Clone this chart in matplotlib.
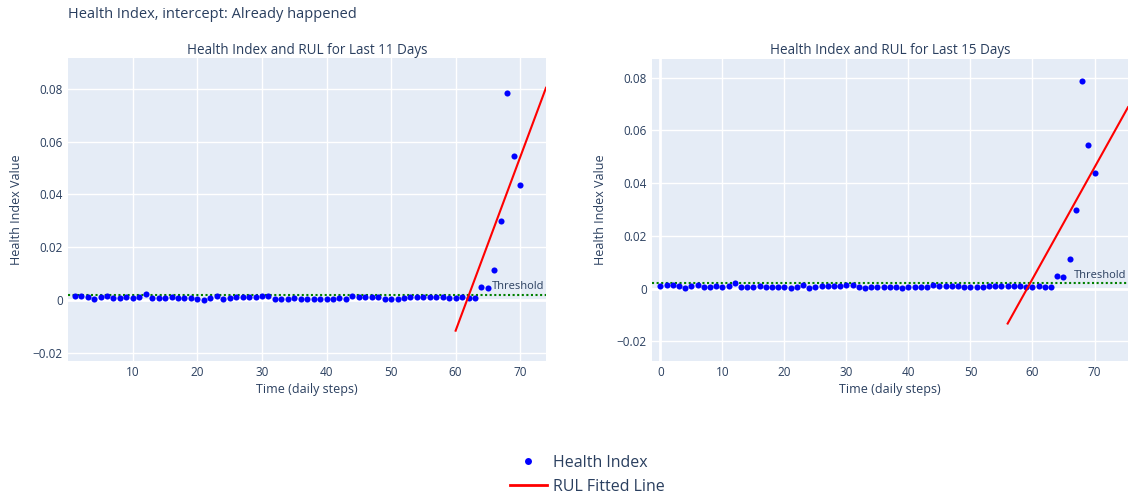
import numpy as np
import matplotlib
matplotlib.use("Agg")
import matplotlib.pyplot as plt
from matplotlib.lines import Line2D
import matplotlib.transforms as mtransforms

plt.rcParams['font.family'] = ['Open Sans', 'DejaVu Sans']

# ---------------- data ----------------
days = np.arange(0, 71)
health_index = [
    0.0010, 0.0013, 0.0013, 0.0010, 0.0003, 0.0009, 0.0013, 0.0007, 0.0006, 0.0009,
    0.0006, 0.0010, 0.0021, 0.0007, 0.0006, 0.0007, 0.0009, 0.0006, 0.0006, 0.0006,
    0.0004, 0.0001, 0.0006, 0.0013, 0.0003, 0.0007, 0.0009, 0.0009, 0.0009, 0.0010,
    0.0013, 0.0013, 0.0004, 0.0003, 0.0004, 0.0006, 0.0004, 0.0004, 0.0004, 0.0003,
    0.0004, 0.0004, 0.0006, 0.0004, 0.0013, 0.0009, 0.0010, 0.0009, 0.0009, 0.0004,
    0.0004, 0.0004, 0.0007, 0.0010, 0.0011, 0.0010, 0.0010, 0.0011, 0.0009, 0.0006,
    0.0007, 0.0009, 0.0007, 0.0007, 0.0049, 0.0045, 0.0113, 0.0299, 0.0786, 0.0546,
    0.0437,
]
threshold = 0.002

# fitted RUL lines (endpoints)
rul_x_11 = [60, 74]
rul_y_11 = [-0.0117, 0.0805]
rul_x_15 = [56, 75.4]
rul_y_15 = [-0.0133, 0.0688]

x_ticks_left = [10, 20, 30, 40, 50, 60, 70]
x_ticks_right = [0, 10, 20, 30, 40, 50, 60, 70]
y_ticks = [-0.02, 0, 0.02, 0.04, 0.06, 0.08]
y_tick_labels = ['\u22120.02', '0', '0.02', '0.04', '0.06', '0.08']

main_title = "Health Index, intercept: Already happened"
titles = ["Health Index and RUL for Last 11 Days", "Health Index and RUL for Last 15 Days"]
x_label = "Time (daily steps)"
y_label = "Health Index Value"

# ---------------- style ----------------
W, H = 1128, 499
TXT = '#2a3f5f'
BG = '#E5ECF6'

fig = plt.figure(figsize=(W / 100, H / 100), dpi=100)


def px_axes(x0, y0, x1, y1):
    return fig.add_axes([x0 / W, 1 - y1 / H, (x1 - x0) / W, (y1 - y0) / H])


axL = px_axes(68.3, 58.3, 546, 360.7)
axR = px_axes(652.3, 59, 1128, 360.7)


def style(ax, xlim, ylim, xticks):
    ax.set_facecolor(BG)
    for s in ax.spines.values():
        s.set_visible(False)
    ax.set_xlim(*xlim)
    ax.set_ylim(*ylim)
    ax.set_xticks(xticks)
    ax.set_yticks(y_ticks)
    ax.set_yticklabels(y_tick_labels)
    ax.tick_params(length=0, labelsize=8.5, labelcolor=TXT, pad=4)
    ax.grid(True, color='white', linewidth=1)
    ax.set_axisbelow(True)


style(axL, (0, 74), (-0.0231, 0.0917), x_ticks_left)
style(axR, (-1.29, 75.4), (-0.0274, 0.0871), x_ticks_right)

axL.axhline(0, color='white', linewidth=2, zorder=0.5)
axR.axhline(0, color='white', linewidth=2, zorder=0.5)
axR.axvline(0, color='white', linewidth=2, zorder=0.5)

panels = [
    (axL, days[1:], health_index[1:], rul_x_11, rul_y_11),
    (axR, days, health_index, rul_x_15, rul_y_15),
]
for ax, xs, ys, rx, ry in panels:
    ax.axhline(threshold, color='green', linewidth=1.5, linestyle=(0, (1, 1.2)), zorder=2)
    ax.plot(xs, ys, linestyle='none', marker='o', markersize=4.4,
            markerfacecolor='blue', markeredgewidth=0, zorder=3)
    ax.plot(rx, ry, color='red', linewidth=1.5, zorder=4)
    tr = mtransforms.blended_transform_factory(ax.transAxes, ax.transData)
    ax.text(0.997, threshold + 0.0008, "Threshold", transform=tr, ha='right', va='bottom',
            fontsize=8, color=TXT, zorder=5)

# texts
fig.text(68 / W, 1 - 14 / H, main_title, ha='left', va='center', fontsize=10.5, color=TXT)
fig.text(307 / W, 1 - 50 / H, titles[0], ha='center', va='center', fontsize=9.75, color=TXT)
fig.text(890 / W, 1 - 50 / H, titles[1], ha='center', va='center', fontsize=9.75, color=TXT)
fig.text(307 / W, 1 - 389 / H, x_label, ha='center', va='center', fontsize=9, color=TXT)
fig.text(890 / W, 1 - 389 / H, x_label, ha='center', va='center', fontsize=9, color=TXT)
fig.text(17 / W, 1 - 210 / H, y_label, ha='center', va='center', rotation=90, fontsize=9, color=TXT)
fig.text(600 / W, 1 - 210 / H, y_label, ha='center', va='center', rotation=90, fontsize=9, color=TXT)

# legend
handles = [
    Line2D([], [], linestyle='none', marker='o', markersize=5, markerfacecolor='blue',
           markeredgewidth=0, label='Health Index'),
    Line2D([], [], color='red', linewidth=2, label='RUL Fitted Line'),
]
fig.legend(handles=handles, loc='upper left', bbox_to_anchor=(510 / W, 1 - 455 / H),
           frameon=False, borderpad=0, borderaxespad=0, handlelength=2.3, handletextpad=0.4,
           labelspacing=0.48, fontsize=11.5, labelcolor=TXT)

fig.savefig('out.png', dpi=100)
